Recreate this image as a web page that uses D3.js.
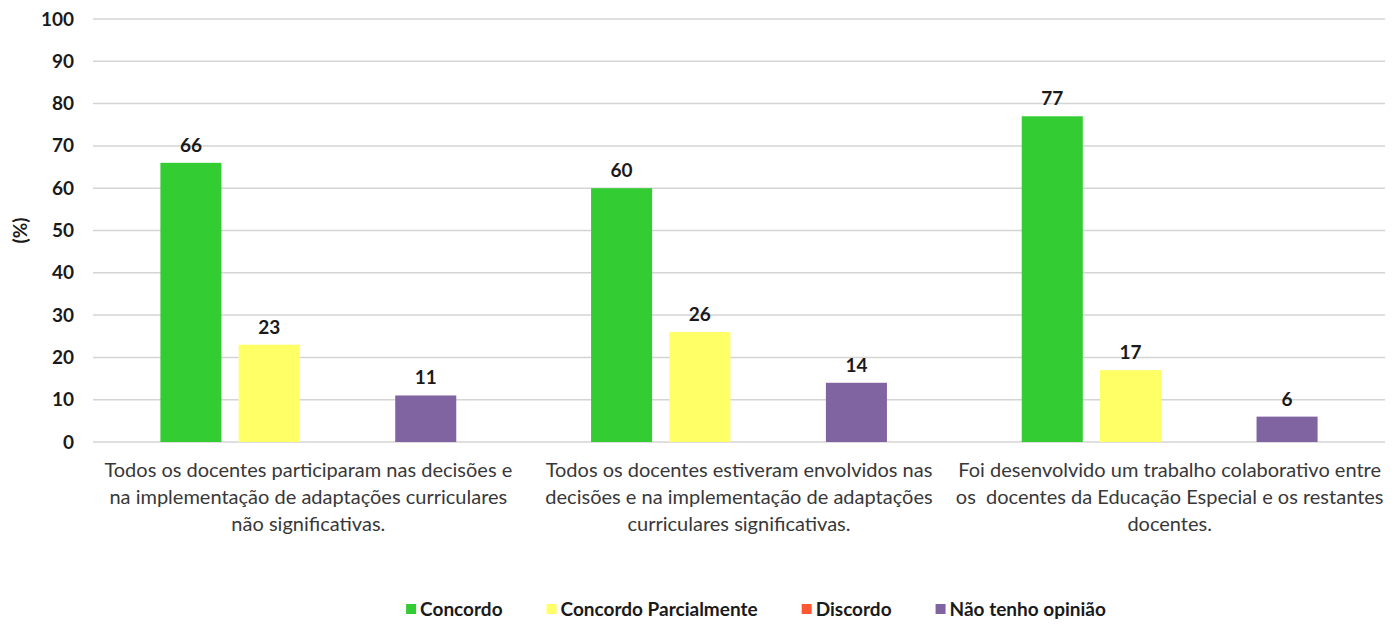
<!DOCTYPE html>
<html>
<head>
<meta charset="utf-8">
<script src="https://cdn.jsdelivr.net/npm/d3@7"></script>
<style>
  html,body{margin:0;padding:0;background:#fff;}
  svg text{font-family:Lato,"Open Sans",sans-serif;}
</style>
</head>
<body>
<svg id="chart" width="1400" height="624"></svg>
<script>
const categories=["g1","g2","g3"];
const categoryLines=[
  ["Todos os docentes participaram nas decisões e","na implementação de adaptações curriculares","não significativas."],
  ["Todos os docentes estiveram envolvidos nas","decisões e na implementação de adaptações","curriculares significativas."],
  ["Foi desenvolvido um trabalho colaborativo entre","os  docentes da Educação Especial e os restantes","docentes."]
];
const seriesNames=["Concordo","Concordo Parcialmente","Discordo","Não tenho opinião"];
const seriesColors=["#33cc33","#ffff66","#ff5733","#8064a2"];
const concordo=[66,60,77];
const concordoParcialmente=[23,26,17];
const discordo=[0,0,0];
const semOpiniao=[11,14,6];
const yTicks=[0,10,20,30,40,50,60,70,80,90,100];

const values=[concordo,concordoParcialmente,discordo,semOpiniao];
const rows=categories.map((c,i)=>({
  cat:c,
  bars:seriesNames.map((s,j)=>({key:s,value:values[j][i],color:seriesColors[j]}))
}));

const svg=d3.select("#chart");
const m={top:19,right:15,bottom:182,left:93};
const w=1400,h=624;

const x0=d3.scaleBand().domain(categories).range([m.left,w-m.right]).paddingInner(0.313).paddingOuter(0.1565);
const x1=d3.scaleBand().domain(seriesNames).range([0,x0.bandwidth()]).paddingInner(0.22);
const y=d3.scaleLinear().domain([0,100]).range([h-m.bottom,m.top]);

// gridlines
svg.append("g")
  .selectAll("line")
  .data(yTicks)
  .join("line")
  .attr("x1",m.left)
  .attr("x2",w-m.right)
  .attr("y1",d=>y(d))
  .attr("y2",d=>y(d))
  .attr("stroke","#d4d4d4")
  .attr("stroke-width",1.5);

// y axis labels
const yAxis=svg.append("g")
  .attr("transform",`translate(${m.left-19},0)`)
  .call(d3.axisLeft(y).tickValues(yTicks).tickSize(0).tickPadding(0));
yAxis.select(".domain").remove();
yAxis.selectAll("text")
  .attr("font-family","Lato,sans-serif")
  .attr("font-size","19px")
  .attr("font-weight","bold")
  .attr("fill","#1a1a1a");

svg.append("text")
  .attr("transform",`translate(27,${y(50)}) rotate(-90)`)
  .attr("text-anchor","middle")
  .attr("font-size","19px")
  .attr("font-weight","bold")
  .attr("fill","#1a1a1a")
  .text("(%)");

// bars
const groups=svg.append("g")
  .selectAll("g")
  .data(rows)
  .join("g")
  .attr("transform",d=>`translate(${x0(d.cat)},0)`);

groups.selectAll("rect")
  .data(d=>d.bars)
  .join("rect")
  .attr("x",d=>x1(d.key))
  .attr("width",x1.bandwidth())
  .attr("y",d=>y(d.value))
  .attr("height",d=>y(0)-y(d.value))
  .attr("fill",d=>d.color);

groups.selectAll("text.val")
  .data(d=>d.bars.filter(b=>b.value>0))
  .join("text")
  .attr("class","val")
  .attr("x",d=>x1(d.key)+x1.bandwidth()/2)
  .attr("y",d=>y(d.value)-11)
  .attr("text-anchor","middle")
  .attr("font-size","19px")
  .attr("font-weight","bold")
  .attr("fill","#1a1a1a")
  .text(d=>d.value);

// category labels
const catG=svg.append("g");
categories.forEach((c,i)=>{
  const t=catG.append("text")
    .attr("x",x0(c)+x0.bandwidth()/2)
    .attr("y",y(0)+35)
    .attr("text-anchor","middle")
    .attr("font-size","20px")
    .attr("fill","#383838")
    .style("white-space","pre");
  categoryLines[i].forEach((line,k)=>{
    t.append("tspan")
      .attr("x",x0(c)+x0.bandwidth()/2)
      .attr("dy",k===0?0:27)
      .text(line);
  });
});

// legend
const legend=svg.append("g").attr("transform","translate(0,609)");
const items=legend.selectAll("g")
  .data(seriesNames)
  .join("g");
items.append("rect")
  .attr("width",10)
  .attr("height",10)
  .attr("y",-5)
  .attr("fill",(d,i)=>seriesColors[i]);
items.append("text")
  .attr("x",14)
  .attr("dy","0.35em")
  .attr("font-size","19px")
  .attr("font-weight","bold")
  .attr("fill","#1a1a1a")
  .text(d=>d);
let cx=0;
const gap=44;
items.each(function(){
  const g=d3.select(this);
  const tw=g.select("text").node().getComputedTextLength();
  g.attr("transform",`translate(${cx},0)`);
  cx+=14+tw+gap;
});
const total=cx-gap;
legend.attr("transform",`translate(${756-total/2},609)`);
</script>
</body>
</html>
